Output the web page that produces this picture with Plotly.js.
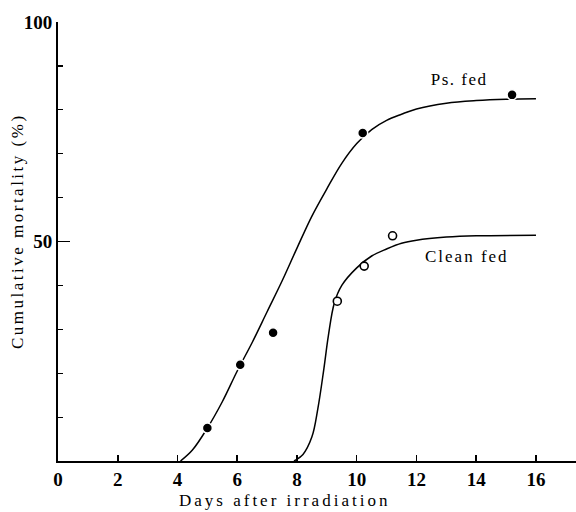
<!DOCTYPE html>
<html>
<head>
<meta charset="utf-8">
<script src="https://cdn.plot.ly/plotly-3.0.1.min.js"></script>
<style>html,body{margin:0;padding:0;background:#fff}#chart{width:576px;height:512px}</style>
</head>
<body>
<div id="chart"></div>
<script>
// Observed data points
var psFedDays = [5.0, 6.1, 7.2, 10.2, 15.2];
var psFedMortality = [7.5, 21.9, 29.2, 74.7, 83.4];
var cleanFedDays = [9.35, 10.25, 11.2];
var cleanFedMortality = [36.4, 44.4, 51.3];

// Fitted curves as drawn in the figure
var psCurveDays = [4.1, 4.5, 5.0, 5.5, 6.0, 6.5, 7.0, 7.5, 8.0, 8.5, 9.0, 9.5, 10.0, 10.5, 11.0, 11.5, 12.0, 13.0, 14.0, 15.0, 16.0];
var psCurveMortality = [0, 2.5, 7.5, 13.5, 20.5, 27, 34, 41, 48.5, 55.8, 62, 67.8, 72.3, 75.5, 77.6, 79, 80.2, 81.5, 82.1, 82.4, 82.5];
var cleanCurveDays = [7.9, 8.2, 8.5, 8.7, 8.9, 9.05, 9.25, 9.5, 10.0, 10.5, 11.0, 11.5, 12.0, 13.0, 14.0, 16.0];
var cleanCurveMortality = [0, 1.5, 5.5, 12, 21, 28.5, 36, 40, 44, 46.7, 48.3, 49.6, 50.3, 51, 51.3, 51.4];

var xTickVals = [0, 2, 4, 6, 8, 10, 12, 14, 16];
var yTickVals = [50, 100];
var yTickText = ['50', '100'];

var serif = 'Liberation Serif, DejaVu Serif, serif';

var traces = [
  {x: psCurveDays, y: psCurveMortality, mode: 'lines', line: {color: '#000', width: 1.5, shape: 'spline', smoothing: 1}, hoverinfo: 'skip'},
  {x: cleanCurveDays, y: cleanCurveMortality, mode: 'lines', line: {color: '#000', width: 1.5, shape: 'spline', smoothing: 1}, hoverinfo: 'skip'},
  {x: psFedDays, y: psFedMortality, mode: 'markers', marker: {color: '#000', size: 10, line: {color: '#fff', width: 1.5}}},
  {x: cleanFedDays, y: cleanFedMortality, mode: 'markers', marker: {color: '#fff', size: 8, line: {color: '#000', width: 1.6}}}
];

var layout = {
  width: 576, height: 512,
  margin: {l: 58, r: 0, t: 22, b: 51},
  paper_bgcolor: '#fff', plot_bgcolor: '#fff',
  showlegend: false,
  font: {family: serif, color: '#000'},
  xaxis: {
    range: [0, 17.34], showgrid: false, zeroline: false,
    showline: true, linecolor: '#000', linewidth: 2,
    tickmode: 'array', tickvals: xTickVals,
    ticks: 'inside', ticklen: 6, tickwidth: 1.5, tickcolor: '#000',
    tickfont: {family: serif, size: 19, color: '#000', weight: 700}
  },
  yaxis: {
    range: [0, 100], showgrid: false, zeroline: false,
    showline: true, linecolor: '#000', linewidth: 2,
    tickmode: 'array', tickvals: yTickVals, ticktext: yTickText,
    ticks: 'inside', ticklen: 12, tickwidth: 1.5, tickcolor: '#000',
    tickfont: {family: serif, size: 19, color: '#000', weight: 700},
    minor: {tickmode: 'linear', tick0: 0, dtick: 10, ticks: 'inside', ticklen: 5, tickwidth: 1.2, tickcolor: '#000'}
  },
  annotations: [
    {xref: 'paper', yref: 'paper', x: 0.438, y: -0.09, xanchor: 'center', yanchor: 'middle',
     text: 'Days after irradiation', showarrow: false, font: {family: serif, size: 17, color: '#000'}},
    {xref: 'paper', yref: 'paper', x: -0.077, y: 0.524, xanchor: 'center', yanchor: 'middle', textangle: -90,
     text: 'Cumulative mortality (%)', showarrow: false, font: {family: serif, size: 17, color: '#000'}},
    {x: 13.45, y: 86.8, text: 'Ps. fed', showarrow: false, font: {family: serif, size: 17, color: '#000'}},
    {x: 13.7, y: 46.6, text: 'Clean fed', showarrow: false, font: {family: serif, size: 17, color: '#000'}}
  ]
};

Plotly.newPlot('chart', traces, layout, {displayModeBar: false, staticPlot: true}).then(function(gd){
  var ann = gd.querySelectorAll('.annotation-text');
  if (ann[0]) ann[0].style.letterSpacing = '3px';
  if (ann[1]) ann[1].style.letterSpacing = '2.5px';
  if (ann[2]) ann[2].style.letterSpacing = '1.5px';
  if (ann[3]) ann[3].style.letterSpacing = '2px';
});
</script>
</body>
</html>
